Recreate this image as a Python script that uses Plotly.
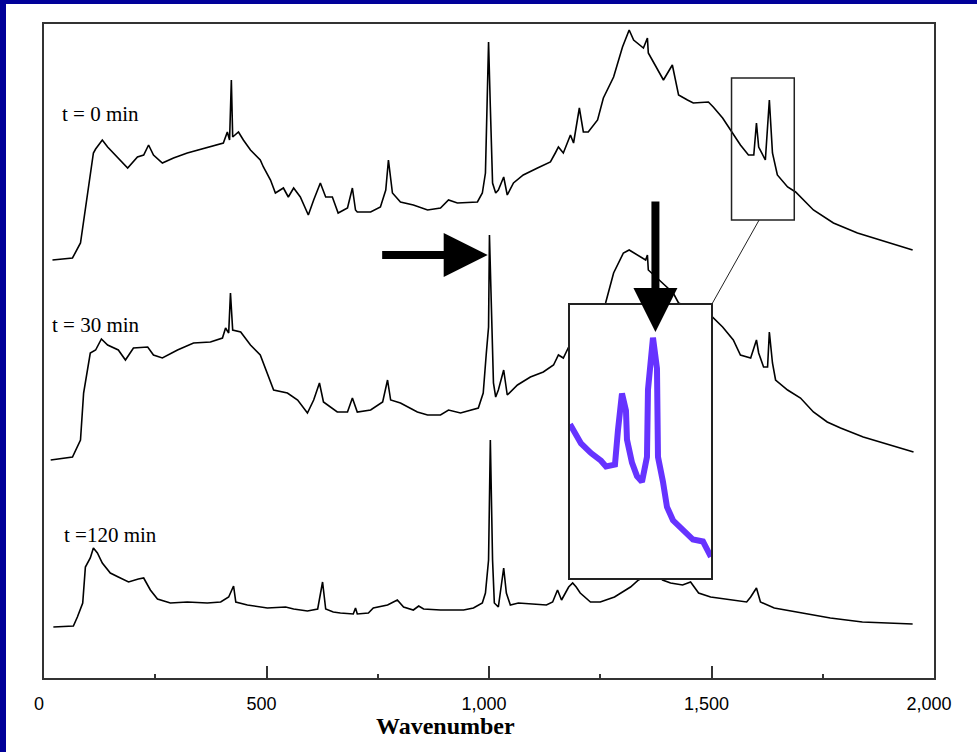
import plotly.graph_objects as go

# Raman spectra recorded at three reaction times (intensity in arbitrary units, offset per trace)
wn_t0 = [19, 64, 82, 89, 100, 111, 116, 131, 143, 165, 188, 210, 224, 235, 246, 266, 291, 322, 345, 374,
         403, 412, 417, 421, 424, 437, 448, 464, 486, 493, 509, 520, 538, 549, 561, 576, 594, 606, 621, 633,
         648, 661, 682, 693, 700, 704, 734, 756, 768, 774, 783, 801, 830, 862, 891, 909, 929, 974, 985, 992,
         996, 999, 1003, 1008, 1015, 1021, 1033, 1041, 1055, 1077, 1109, 1138, 1149, 1156, 1167, 1183, 1190, 1203, 1212, 1223,
         1244, 1257, 1280, 1300, 1315, 1325, 1347, 1356, 1358, 1392, 1412, 1426, 1446, 1459, 1493, 1504, 1525, 1538, 1547, 1565,
         1583, 1595, 1601, 1606, 1621, 1626, 1630, 1637, 1648, 1671, 1689, 1729, 1774, 1828, 1880, 1952]
int_t0 = [419, 421, 436, 459, 492, 526, 530, 539, 532, 522, 511, 522, 524, 534, 524, 516, 521, 526, 529, 532,
          536, 547, 539, 599, 542, 547, 539, 529, 519, 512, 499, 486, 491, 482, 491, 482, 464, 479, 496, 482,
          482, 466, 471, 491, 469, 467, 467, 472, 489, 519, 486, 477, 474, 469, 471, 479, 476, 477, 486, 506,
          572, 637, 572, 496, 486, 489, 502, 484, 496, 504, 511, 517, 526, 532, 526, 544, 536, 571, 547, 547,
          559, 581, 602, 632, 649, 639, 631, 641, 626, 599, 614, 584, 579, 576, 577, 572, 561, 552, 547, 534,
          524, 524, 556, 532, 519, 549, 579, 526, 504, 492, 487, 469, 456, 446, 439, 429]

wn_t30 = [15, 64, 82, 89, 104, 116, 129, 143, 167, 183, 201, 233, 246, 266, 300, 336, 374, 401, 408, 415,
          419, 424, 442, 464, 486, 504, 516, 547, 570, 592, 606, 619, 628, 659, 682, 693, 704, 734, 761, 772,
          779, 801, 839, 862, 891, 909, 936, 976, 987, 994, 999, 1001, 1006, 1010, 1015, 1021, 1033, 1041, 1064, 1093,
          1122, 1145, 1156, 1167, 1179, 1190, 1203, 1212, 1223, 1244, 1257, 1262, 1280, 1302, 1315, 1334, 1352, 1356, 1358, 1414,
          1426, 1453, 1475, 1502, 1525, 1549, 1565, 1588, 1601, 1606, 1617, 1626, 1630, 1637, 1644, 1671, 1700, 1729, 1760, 1790,
          1841, 1902, 1954]
int_t30 = [219, 222, 239, 286, 326, 329, 340, 334, 329, 319, 331, 332, 324, 321, 329, 336, 337, 341, 351, 346,
           386, 349, 347, 334, 324, 304, 289, 286, 279, 266, 279, 296, 277, 267, 267, 281, 267, 269, 277, 299,
           279, 276, 267, 264, 264, 269, 266, 271, 286, 326, 352, 444, 352, 296, 282, 289, 309, 284, 294, 302,
           307, 314, 324, 321, 332, 324, 359, 335, 335, 347, 369, 376, 406, 426, 429, 424, 419, 424, 409, 386,
           376, 371, 367, 362, 352, 339, 324, 321, 339, 326, 312, 312, 347, 316, 299, 289, 281, 267, 257, 251,
           242, 234, 227]

wn_t120 = [21, 66, 75, 87, 93, 104, 111, 120, 131, 149, 167, 190, 212, 224, 239, 255, 284, 322, 367, 397,
           415, 426, 431, 457, 502, 543, 561, 592, 615, 626, 633, 650, 666, 695, 700, 704, 729, 740, 772, 794,
           808, 830, 842, 853, 891, 943, 965, 985, 992, 999, 1003, 1008, 1012, 1021, 1033, 1039, 1048, 1066, 1129, 1143,
           1154, 1163, 1179, 1188, 1196, 1205, 1228, 1250, 1282, 1318, 1336, 1358, 1381, 1390, 1408, 1435, 1453, 1471, 1498, 1552,
           1579, 1588, 1601, 1610, 1641, 1704, 1767, 1839, 1902, 1952]
int_t120 = [52, 53, 62, 76, 112, 121, 131, 126, 116, 106, 102, 97, 100, 101, 89, 80, 76, 77, 76, 77,
            82, 93, 77, 74, 71, 72, 70, 68, 70, 97, 70, 67, 66, 65, 71, 65, 66, 71, 74, 79,
            72, 69, 73, 70, 69, 69, 71, 76, 86, 119, 239, 119, 76, 72, 111, 86, 74, 76, 74, 77,
            89, 79, 92, 96, 92, 86, 77, 77, 82, 92, 99, 104, 103, 99, 96, 94, 97, 86, 82, 79,
            77, 82, 91, 77, 71, 66, 61, 57, 56, 55]

# Magnified window of the t = 0 min spectrum (1545-1686 cm-1)
zoom_x = [1545, 1686]
zoom_y = [459, 601]
wn_zoom = [1545, 1556, 1566, 1576, 1581, 1590, 1593, 1597, 1601, 1602, 1607, 1612, 1617, 1622, 1623, 1628,
           1632, 1633, 1638, 1642, 1648, 1658, 1668, 1678, 1683, 1686]
int_zoom = [539, 529, 524, 520, 517, 518, 536, 555, 546, 531, 519, 512, 509, 522, 557, 584,
            568, 522, 509, 496, 489, 484, 479, 478, 472, 470]

labels = ["t = 0 min", "t = 30 min", "t =120 min"]
label_x = [36, 13, 40]
label_y = [565, 354, 144]

x_ticks = [0, 500, 1000, 1500, 2000]

FRAME = "#333333"
SERIF = "Liberation Serif"
SANS = "Liberation Sans"

fig = go.Figure()

for wn, inten in [(wn_t0, int_t0), (wn_t30, int_t30), (wn_t120, int_t120)]:
    fig.add_trace(go.Scatter(x=wn, y=inten, mode="lines",
                             line=dict(color="black", width=1.6),
                             hoverinfo="skip", showlegend=False))

# white backing of the inset panel, then the magnified trace
fig.add_trace(go.Scatter(x=[zoom_x[0], zoom_x[1], zoom_x[1], zoom_x[0], zoom_x[0]],
                         y=[zoom_y[0], zoom_y[0], zoom_y[1], zoom_y[1], zoom_y[0]],
                         xaxis="x2", yaxis="y2", mode="lines", fill="toself",
                         fillcolor="white", line=dict(width=0, color="white"),
                         hoverinfo="skip", showlegend=False))
fig.add_trace(go.Scatter(x=wn_zoom, y=int_zoom, xaxis="x2", yaxis="y2", mode="lines",
                         line=dict(color="#6633ff", width=6),
                         hoverinfo="skip", showlegend=False))

annotations = []
for txt, lx, ly in zip(labels, label_x, label_y):
    annotations.append(dict(x=lx, y=ly, xref="x", yref="y", text=txt, showarrow=False,
                            xanchor="left", yanchor="middle",
                            font=dict(family=SERIF, size=21, color="black")))

# axis title
annotations.append(dict(x=903, y=-0.073, xref="x", yref="paper", text="<b>Wavenumber</b>",
                        showarrow=False, xanchor="center", yanchor="middle",
                        font=dict(family=SERIF, size=24, color="black")))

# arrows marking the 1000 cm-1 band and the new band in the inset
annotations.append(dict(x=997, y=424, xref="x", yref="y", text="", showarrow=True,
                        ax=-107, ay=0, axref="pixel", ayref="pixel",
                        arrowhead=2, arrowsize=1.1, arrowwidth=8, arrowcolor="black"))
annotations.append(dict(x=1374, y=347, xref="x", yref="y", text="", showarrow=True,
                        ax=0, ay=-132, axref="pixel", ayref="pixel",
                        arrowhead=2, arrowsize=1.1, arrowwidth=8, arrowcolor="black"))

shapes = [
    # zoom window on the t = 0 min spectrum
    dict(type="rect", xref="x", yref="y", x0=zoom_x[0], x1=zoom_x[1], y0=zoom_y[0], y1=zoom_y[1],
         line=dict(color="#222222", width=1.5), fillcolor="rgba(0,0,0,0)", layer="above"),
    # leader line to the inset
    dict(type="line", xref="x", yref="y", x0=1607, y0=zoom_y[0], x1=1501, y1=375,
         line=dict(color="#222222", width=1), layer="above"),
    # navy page border, left and top
    dict(type="rect", xref="paper", yref="paper", xsizemode="pixel", ysizemode="pixel",
         xanchor=0, yanchor=0, x0=-44, x1=-38, y0=-74, y1=678,
         fillcolor="#000099", line=dict(width=0), layer="above"),
    dict(type="rect", xref="paper", yref="paper", xsizemode="pixel", ysizemode="pixel",
         xanchor=0, yanchor=1, x0=-44, x1=934, y0=20, y1=24,
         fillcolor="#000099", line=dict(width=0), layer="above"),
]

fig.update_layout(
    width=977, height=752,
    margin=dict(l=44, r=43, t=24, b=74),
    paper_bgcolor="white", plot_bgcolor="white",
    showlegend=False,
    separators=".,",
    xaxis=dict(range=[0, 2000], domain=[0, 1], showgrid=False, zeroline=False,
               showline=True, mirror=True, linecolor=FRAME, linewidth=2,
               ticks="inside", ticklen=12, tickwidth=2, tickcolor=FRAME,
               tickvals=x_ticks, tickformat=",d",
               minor=dict(dtick=250, tick0=0, ticks="inside", ticklen=4, tickwidth=2,
                          tickcolor=FRAME, showgrid=False),
               tickfont=dict(family=SANS, size=18, color="black"),
               ticklabelstandoff=8, ticklabelshift=-5),
    yaxis=dict(range=[1, 655], domain=[0, 1], showgrid=False, zeroline=False,
               showline=True, mirror=True, linecolor=FRAME, linewidth=2,
               ticks="", showticklabels=False),
    xaxis2=dict(domain=[0.591, 0.7494], anchor="y2", range=zoom_x, showgrid=False,
                zeroline=False, showline=True, mirror=True, linecolor="#222222",
                linewidth=2, ticks="", showticklabels=False),
    yaxis2=dict(domain=[0.1529, 0.5703], anchor="x2", range=zoom_y, showgrid=False,
                zeroline=False, showline=True, mirror=True, linecolor="#222222",
                linewidth=2, ticks="", showticklabels=False),
    annotations=annotations,
    shapes=shapes,
)

fig.write_html("out.html")
